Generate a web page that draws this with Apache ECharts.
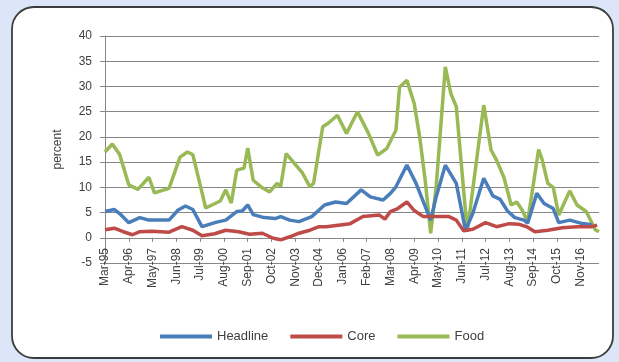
<!DOCTYPE html>
<html>
<head>
<meta charset="utf-8">
<script src="https://cdn.jsdelivr.net/npm/echarts@6/dist/echarts.min.js"></script>
<style>
  html, body { margin: 0; padding: 0; background: #dce6f8; }
  #chart { width: 619px; height: 362px; }
</style>
</head>
<body>
<div id="chart"></div>
<script>
// monthly categories, Mar-95 .. Sep-17
var monthNames = ['Jan', 'Feb', 'Mar', 'Apr', 'May', 'Jun', 'Jul', 'Aug', 'Sep', 'Oct', 'Nov', 'Dec'];
var startYear = 1995, startMonth = 2, monthCount = 271;
var months = [];
for (var m = 0; m < monthCount; m++) {
  var mi = (startMonth + m) % 12;
  var yr = startYear + Math.floor((startMonth + m) / 12);
  months.push(monthNames[mi] + '-' + String(yr).slice(2));
}

var seriesNames = ['Headline', 'Core', 'Food'];

// [month index, percent]
var headline = [
  [0, 5.2], [5, 5.6], [8, 4.8], [13, 3.0], [19, 4.0], [24, 3.5], [35, 3.5], [40, 5.5],
  [44, 6.3], [48, 5.6], [53, 2.2], [61, 3.1], [66, 3.5], [72, 5.2], [75, 5.3], [78, 6.5],
  [81, 4.6], [87, 4.0], [93, 3.8], [96, 4.2], [101, 3.5], [106, 3.2], [113, 4.2], [120, 6.5],
  [126, 7.1], [132, 6.8], [140, 9.5], [145, 8.1], [152, 7.5], [156, 8.8], [159, 10.1], [165, 14.4],
  [170, 10.8], [178, 3.5], [181, 8.1], [186, 14.4], [192, 10.8], [197, 1.5], [201, 4.8], [207, 11.8],
  [212, 8.3], [216, 7.6], [220, 5.3], [224, 4.0], [229, 3.5], [231, 2.9], [236, 8.8], [240, 6.8],
  [245, 5.8], [248, 3.0], [254, 3.5], [260, 2.9], [266, 2.6]
];
var core = [
  [0, 1.6], [5, 1.9], [10, 1.2], [15, 0.6], [19, 1.2], [26, 1.3], [35, 1.1], [42, 2.2],
  [48, 1.5], [53, 0.4], [60, 0.8], [66, 1.5], [73, 1.2], [79, 0.7], [86, 0.9], [92, -0.1],
  [96, -0.4], [101, 0.2], [106, 0.9], [112, 1.5], [117, 2.2], [121, 2.2], [134, 2.8], [141, 4.2],
  [150, 4.5], [153, 3.7], [156, 5.2], [160, 5.8], [165, 7.1], [169, 5.4], [174, 4.2], [182, 4.2],
  [188, 4.2], [192, 3.5], [196, 1.4], [201, 1.7], [208, 3.0], [214, 2.2], [221, 2.8], [226, 2.7],
  [231, 2.1], [235, 1.2], [242, 1.5], [250, 2.0], [258, 2.2], [266, 2.2], [269, 2.5]
];
var food = [
  [0, 17.0], [4, 18.6], [8, 16.5], [13, 10.5], [18, 9.6], [24, 12.0], [27, 8.9], [35, 9.8],
  [41, 16.0], [45, 17.0], [48, 16.5], [53, 9.0], [55, 5.9], [63, 7.3], [66, 9.5], [69, 6.9],
  [72, 13.4], [76, 13.8], [78, 17.8], [81, 11.4], [86, 9.9], [90, 9.1], [94, 10.8], [96, 10.1],
  [99, 16.7], [105, 14.1], [108, 12.8], [112, 10.1], [114, 10.8], [119, 22.0], [122, 22.7], [127, 24.3],
  [132, 20.7], [138, 25.0], [144, 20.7], [149, 16.4], [154, 17.7], [159, 21.3], [161, 29.9], [165, 31.2],
  [169, 26.6], [172, 20.0], [175, 11.4], [178, 0.9], [181, 10.1], [186, 33.9], [189, 28.6], [192, 26.0],
  [198, 1.2], [207, 26.3], [211, 17.4], [214, 15.4], [218, 12.0], [222, 6.5], [225, 7.1], [228, 5.5],
  [231, 3.2], [237, 17.5], [239, 15.4], [242, 10.8], [245, 10.0], [248, 4.5], [254, 9.3], [258, 6.5],
  [263, 5.2], [268, 1.6], [270, 1.2]
];

var yTicks = { min: -5, max: 40, interval: 5 };
var colors = ['#4a7ebb', '#be4b48', '#98b954'];

var chart = echarts.init(document.getElementById('chart'));

var option = {
  backgroundColor: '#dce6f8',
  color: colors,
  animation: false,
  textStyle: { fontFamily: 'Liberation Sans, Arial, sans-serif', color: '#404040' },
  graphic: [{
    type: 'rect',
    z: -10,
    shape: { x: 12, y: 7, width: 601, height: 351, r: 22 },
    style: { fill: '#ffffff', stroke: '#3c3c3c', lineWidth: 1.8 }
  }],
  grid: { left: 105, right: 20, top: 36, bottom: 99 },
  legend: {
    data: seriesNames,
    left: 155,
    top: 325,
    icon: 'rect',
    itemWidth: 52,
    itemHeight: 4,
    itemGap: 22,
    textStyle: { fontSize: 13, color: '#404040' }
  },
  xAxis: {
    type: 'category',
    data: months,
    boundaryGap: false,
    axisLine: { onZero: true, lineStyle: { color: '#868686', width: 1 } },
    axisTick: { show: true, interval: 12, length: 4, lineStyle: { color: '#868686' } },
    // labels hang just under the zero line, crossing the -5 gridline
    axisLabel: { interval: 12, rotate: 90, margin: -15, fontSize: 12, color: '#404040' },
    splitLine: { show: false }
  },
  yAxis: {
    type: 'value',
    min: yTicks.min,
    max: yTicks.max,
    interval: yTicks.interval,
    name: 'percent',
    nameLocation: 'middle',
    nameGap: 41,
    nameRotate: 90,
    nameTextStyle: { fontSize: 12, color: '#404040' },
    axisLine: { show: true, lineStyle: { color: '#868686' } },
    axisTick: { show: true, length: 5, lineStyle: { color: '#868686' } },
    axisLabel: { margin: 13, fontSize: 12, color: '#404040' },
    splitLine: { lineStyle: { color: '#868686', width: 1 } }
  },
  series: [
    { name: seriesNames[0], type: 'line', data: headline, showSymbol: false, lineStyle: { width: 3.5 }, z: 3 },
    { name: seriesNames[1], type: 'line', data: core, showSymbol: false, lineStyle: { width: 3.5 }, z: 3 },
    { name: seriesNames[2], type: 'line', data: food, showSymbol: false, lineStyle: { width: 3.5 }, z: 2 }
  ]
};

chart.setOption(option);
</script>
</body>
</html>
